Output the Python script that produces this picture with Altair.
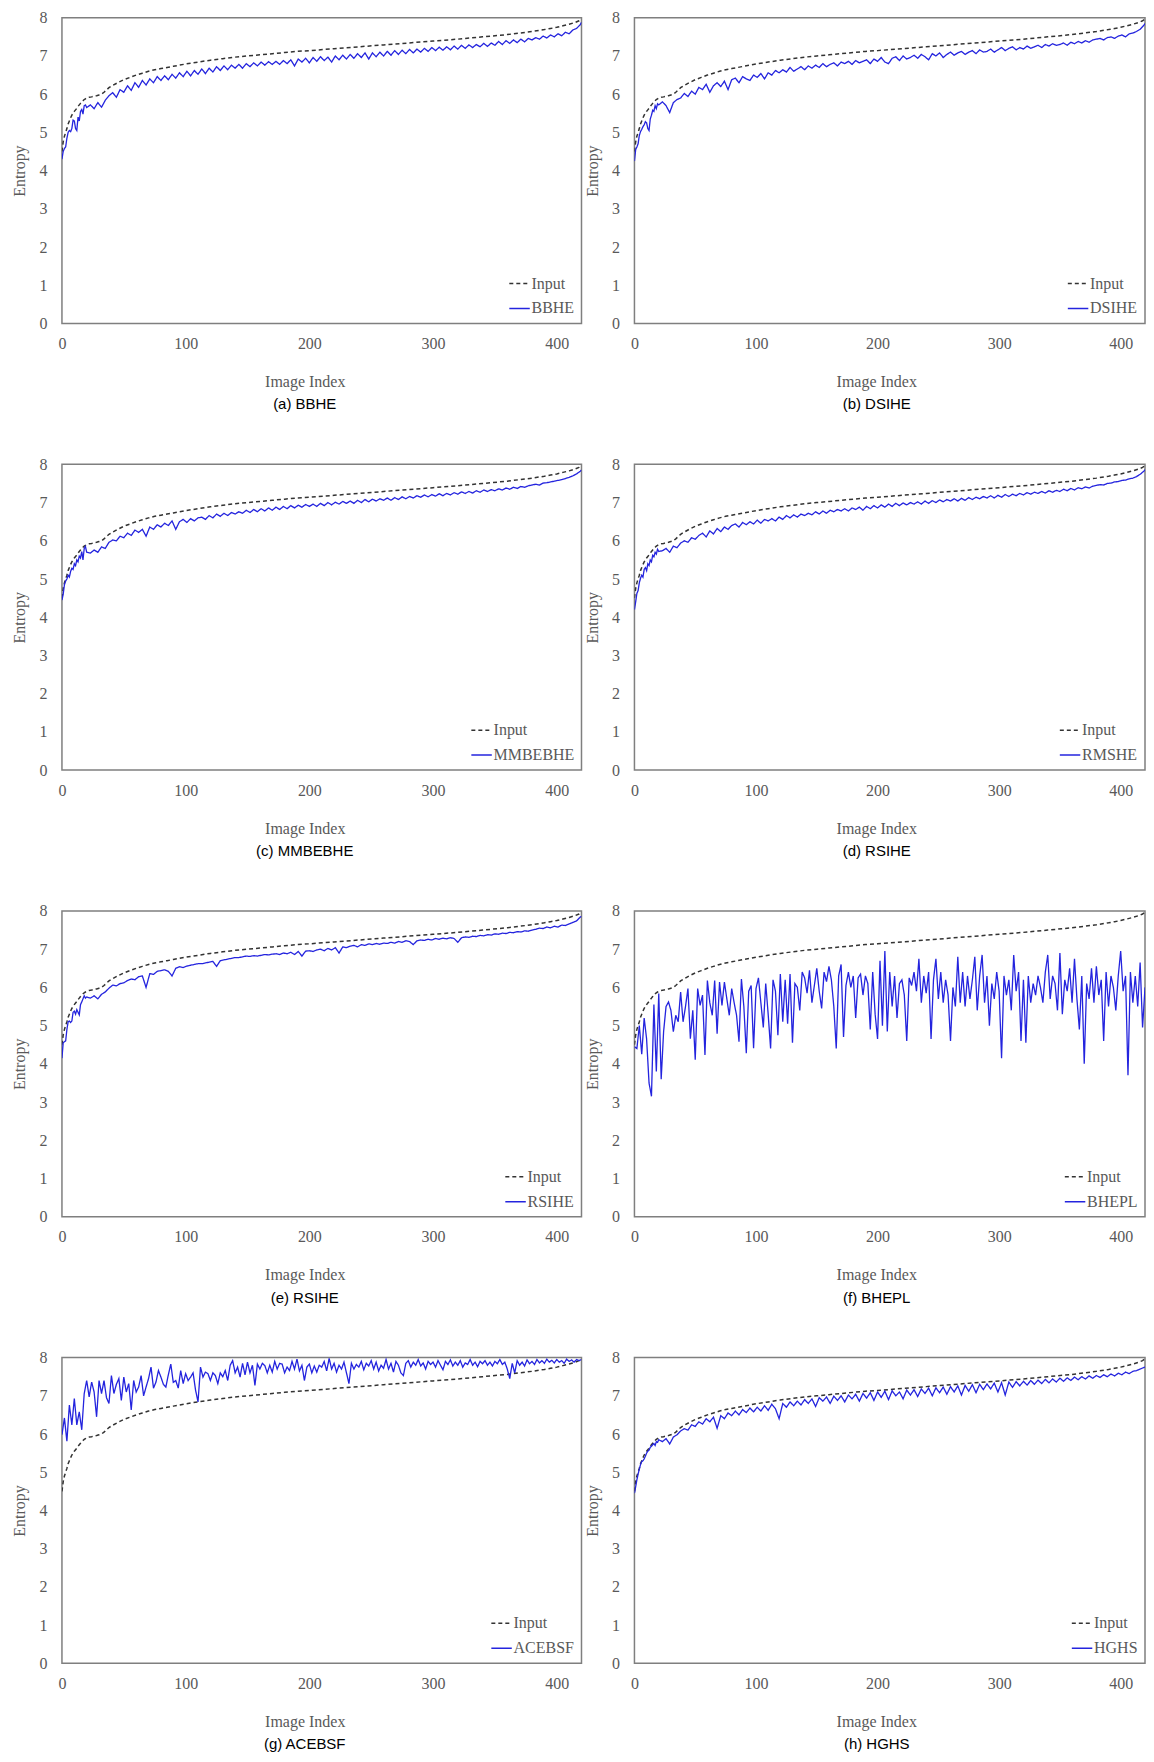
import altair as alt
import pandas as pd

# ---------------- data ----------------
input_idx = [0, 1, 2, 3, 4, 5, 6, 7, 8, 9, 10, 11, 12, 13, 14, 15, 16, 17, 18, 19, 20,
             22, 24, 26, 28, 30, 32, 34, 36, 38, 40,
             45, 50, 55, 60, 65, 70, 75, 80, 85, 90, 95,
             100, 110, 120, 130, 140, 150, 160, 170, 180, 190, 200,
             220, 240, 260, 280, 300, 320, 340, 360,
             370, 380, 390, 395, 400, 405, 410, 415, 418, 420]
input_vals = [4.50, 4.75, 4.90, 5.00, 5.10, 5.22, 5.30, 5.38, 5.45, 5.50, 5.55, 5.59, 5.63, 5.68, 5.72, 5.76, 5.80, 5.83, 5.86, 5.88, 5.90,
              5.92, 5.93, 5.95, 5.96, 5.98, 6.00, 6.05, 6.11, 6.17, 6.21,
              6.30, 6.38, 6.44, 6.50, 6.55, 6.60, 6.64, 6.67, 6.70, 6.73, 6.76,
              6.79, 6.84, 6.89, 6.93, 6.97, 7.00, 7.03, 7.06, 7.09, 7.12, 7.14,
              7.19, 7.24, 7.29, 7.34, 7.39, 7.44, 7.50, 7.56,
              7.60, 7.64, 7.69, 7.72, 7.75, 7.79, 7.83, 7.88, 7.92, 7.97]

# image indices: every image for the first 20, then every 3rd (smoother methods);
# every 2nd image for the very noisy methods
smooth_idx = list(range(0, 21)) + list(range(23, 420, 3)) + [420]
noisy_idx = list(range(0, 421, 2))

bbhe = [4.30, 4.50, 4.58, 4.62, 4.85, 5.00, 5.05, 5.02, 5.10, 5.32, 5.30, 5.10, 5.05, 5.40, 5.30, 5.55, 5.60, 5.48, 5.70, 5.72, 5.65,
        5.72, 5.62, 5.78, 5.66, 5.84, 5.96, 6.04, 5.92, 6.12, 6.05,
        6.22, 6.10, 6.30, 6.18, 6.36, 6.24, 6.40, 6.30, 6.46, 6.36,
        6.48, 6.38, 6.52, 6.42, 6.56, 6.46, 6.60, 6.48, 6.62, 6.52,
        6.66, 6.54, 6.68, 6.58, 6.72, 6.62, 6.74, 6.64, 6.76, 6.68,
        6.78, 6.68, 6.80, 6.72, 6.82, 6.74, 6.84, 6.76, 6.85, 6.78,
        6.86, 6.78, 6.88, 6.80, 6.90, 6.74, 6.92, 6.84, 6.94, 6.82,
        6.96, 6.86, 6.98, 6.88, 6.97, 6.84, 7.00, 6.90, 7.02, 6.92,
        7.04, 6.94, 7.06, 6.96, 7.08, 6.92, 7.08, 6.98, 7.10, 7.00,
        7.12, 7.02, 7.14, 7.04, 7.15, 7.06, 7.17, 7.08, 7.18, 7.10,
        7.20, 7.12, 7.22, 7.14, 7.23, 7.15, 7.24, 7.16, 7.26, 7.18,
        7.28, 7.20, 7.29, 7.22, 7.30, 7.24, 7.33, 7.25, 7.34, 7.28,
        7.38, 7.30, 7.40, 7.33, 7.42, 7.35, 7.44, 7.37, 7.46, 7.42,
        7.48, 7.44, 7.52, 7.47, 7.55, 7.50, 7.58, 7.53, 7.62, 7.58,
        7.68, 7.72, 7.82, 7.88]

dsihe = [4.25, 4.55, 4.62, 4.70, 4.92, 5.02, 5.08, 5.15, 5.20, 5.28, 5.25, 5.10, 5.05, 5.35, 5.45, 5.58, 5.55, 5.70, 5.62, 5.75, 5.72,
         5.80, 5.70, 5.52, 5.78, 5.86, 5.90, 6.02, 5.94, 6.08, 6.00,
         6.18, 6.12, 6.26, 6.05, 6.22, 6.30, 6.20, 6.34, 6.12, 6.38,
         6.42, 6.30, 6.46, 6.40, 6.36, 6.50, 6.44, 6.54, 6.40, 6.56,
         6.50, 6.62, 6.56, 6.64, 6.58, 6.70, 6.60, 6.66, 6.72, 6.64,
         6.74, 6.68, 6.76, 6.70, 6.80, 6.72, 6.78, 6.82, 6.74, 6.84,
         6.80, 6.86, 6.78, 6.88, 6.82, 6.86, 6.90, 6.80, 6.92, 6.86,
         6.96, 6.84, 6.80, 6.94, 6.98, 6.88, 7.00, 6.92, 6.96, 7.02,
         6.94, 7.04, 6.98, 6.90, 7.06, 7.00, 7.08, 6.96, 7.04, 7.10,
         7.02, 7.08, 7.12, 7.04, 7.10, 7.14, 7.06, 7.16, 7.10, 7.12,
         7.18, 7.10, 7.16, 7.22, 7.14, 7.20, 7.24, 7.16, 7.22, 7.18,
         7.26, 7.20, 7.24, 7.28, 7.22, 7.30, 7.26, 7.32, 7.28, 7.30,
         7.34, 7.28, 7.36, 7.32, 7.38, 7.34, 7.40, 7.36, 7.42, 7.44,
         7.46, 7.42, 7.48, 7.50, 7.46, 7.52, 7.55, 7.50, 7.58, 7.60,
         7.64, 7.70, 7.80, 7.85]

mmbebhe = [4.45, 4.60, 4.85, 4.95, 5.00, 5.10, 5.05, 5.20, 5.28, 5.25, 5.40, 5.35, 5.50, 5.45, 5.60, 5.55, 5.72, 5.50, 5.80, 5.85, 5.70,
           5.68, 5.76, 5.70, 5.84, 5.80, 5.96, 6.02, 6.00, 6.12, 6.08,
           6.20, 6.14, 6.28, 6.22, 6.30, 6.12, 6.36, 6.30, 6.42, 6.36,
           6.46, 6.40, 6.52, 6.30, 6.50, 6.56, 6.48, 6.58, 6.52, 6.60,
           6.62, 6.56, 6.66, 6.60, 6.70, 6.64, 6.72, 6.66, 6.74, 6.70,
           6.76, 6.72, 6.80, 6.74, 6.82, 6.76, 6.84, 6.78, 6.86, 6.80,
           6.88, 6.82, 6.90, 6.84, 6.92, 6.86, 6.93, 6.88, 6.95, 6.90,
           6.96, 6.90, 6.98, 6.92, 7.00, 6.94, 7.01, 6.96, 7.03, 6.98,
           7.04, 6.98, 7.06, 7.00, 7.08, 7.02, 7.09, 7.04, 7.10, 7.06,
           7.12, 7.06, 7.13, 7.08, 7.15, 7.10, 7.16, 7.12, 7.18, 7.14,
           7.20, 7.15, 7.21, 7.17, 7.23, 7.18, 7.24, 7.20, 7.26, 7.22,
           7.28, 7.24, 7.29, 7.25, 7.31, 7.27, 7.33, 7.29, 7.34, 7.31,
           7.36, 7.33, 7.38, 7.35, 7.40, 7.37, 7.42, 7.40, 7.44, 7.46,
           7.48, 7.46, 7.51, 7.52, 7.54, 7.56, 7.58, 7.60, 7.63, 7.66,
           7.70, 7.75, 7.82, 7.85]

rmshe = [4.20, 4.40, 4.62, 4.70, 4.90, 5.02, 5.10, 5.05, 5.25, 5.30, 5.22, 5.40, 5.35, 5.50, 5.45, 5.62, 5.58, 5.70, 5.65, 5.78, 5.72,
         5.74, 5.80, 5.70, 5.86, 5.82, 5.94, 6.00, 5.96, 6.08, 6.04,
         6.14, 6.20, 6.10, 6.26, 6.18, 6.32, 6.24, 6.36, 6.30, 6.40,
         6.44, 6.36, 6.48, 6.42, 6.50, 6.44, 6.54, 6.46, 6.56, 6.52,
         6.58, 6.52, 6.62, 6.56, 6.66, 6.60, 6.68, 6.62, 6.70, 6.66,
         6.72, 6.68, 6.76, 6.70, 6.78, 6.72, 6.80, 6.76, 6.82, 6.78,
         6.84, 6.78, 6.86, 6.82, 6.88, 6.80, 6.90, 6.84, 6.92, 6.86,
         6.94, 6.88, 6.96, 6.90, 6.98, 6.92, 6.99, 6.94, 7.00, 6.96,
         7.02, 6.96, 7.04, 6.98, 7.05, 7.00, 7.07, 7.02, 7.08, 7.04,
         7.10, 7.04, 7.11, 7.06, 7.13, 7.08, 7.14, 7.10, 7.16, 7.12,
         7.18, 7.12, 7.19, 7.14, 7.21, 7.16, 7.22, 7.18, 7.24, 7.20,
         7.26, 7.22, 7.27, 7.24, 7.29, 7.25, 7.31, 7.27, 7.32, 7.29,
         7.35, 7.31, 7.37, 7.33, 7.39, 7.36, 7.41, 7.38, 7.43, 7.45,
         7.47, 7.46, 7.50, 7.51, 7.54, 7.55, 7.58, 7.59, 7.62, 7.64,
         7.68, 7.74, 7.82, 7.86]

rsihe = [4.15, 4.55, 4.58, 4.60, 4.90, 5.10, 5.12, 5.08, 5.12, 5.35, 5.38, 5.30, 5.42, 5.35, 5.28, 5.55, 5.62, 5.70, 5.78, 5.72, 5.75,
         5.72, 5.78, 5.70, 5.82, 5.88, 5.98, 6.06, 6.04, 6.10, 6.12,
         6.18, 6.22, 6.20, 6.28, 6.30, 6.00, 6.36, 6.34, 6.42, 6.44,
         6.46, 6.42, 6.30, 6.50, 6.54, 6.52, 6.56, 6.58, 6.60, 6.62,
         6.62, 6.64, 6.66, 6.68, 6.55, 6.70, 6.72, 6.74, 6.76, 6.78,
         6.78, 6.80, 6.82, 6.81, 6.83, 6.82, 6.84, 6.86, 6.85, 6.87,
         6.88, 6.86, 6.90, 6.88, 6.92, 6.86, 6.94, 6.82, 6.95, 6.96,
         6.94, 6.98, 7.00, 6.96, 7.02, 6.98, 7.04, 6.90, 7.06, 7.04,
         7.08, 7.10, 7.06, 7.12, 7.10, 7.14, 7.12, 7.15, 7.13, 7.16,
         7.15, 7.18, 7.16, 7.20, 7.18, 7.22, 7.20, 7.12, 7.22, 7.24,
         7.23, 7.26, 7.24, 7.28, 7.26, 7.29, 7.27, 7.30, 7.28, 7.18,
         7.30, 7.32, 7.31, 7.34, 7.33, 7.36, 7.35, 7.38, 7.37, 7.40,
         7.39, 7.42, 7.41, 7.44, 7.43, 7.46, 7.45, 7.48, 7.47, 7.50,
         7.52, 7.55, 7.54, 7.58, 7.56, 7.60, 7.58, 7.63, 7.62, 7.66,
         7.70, 7.74, 7.84, 7.86]

hghs = [4.45, 4.62, 4.80, 4.95, 5.08, 5.20, 5.28, 5.30, 5.35, 5.42, 5.50, 5.55, 5.58, 5.65, 5.68, 5.72, 5.75, 5.70, 5.80, 5.78, 5.85,
        5.80, 5.88, 5.74, 5.92, 5.98, 6.08, 6.14, 6.10, 6.24, 6.20,
        6.32, 6.26, 6.40, 6.32, 6.44, 6.15, 6.48, 6.40, 6.55, 6.48,
        6.60, 6.50, 6.64, 6.56, 6.68, 6.58, 6.70, 6.60, 6.74, 6.62,
        6.78, 6.66, 6.40, 6.80, 6.70, 6.84, 6.74, 6.86, 6.76, 6.90,
        6.80, 6.92, 6.72, 6.95, 6.86, 6.97, 6.80, 6.99, 6.88, 7.00,
        6.84, 7.02, 6.92, 7.04, 6.86, 7.06, 6.94, 7.08, 6.88, 7.10,
        6.96, 7.12, 6.90, 7.13, 7.00, 7.10, 6.92, 7.15, 7.02, 7.16,
        6.98, 7.18, 7.06, 7.20, 7.00, 7.21, 7.08, 7.23, 7.04, 7.24,
        7.10, 7.26, 7.02, 7.27, 7.12, 7.29, 7.08, 7.30, 7.16, 7.31,
        7.18, 7.33, 7.10, 7.34, 7.02, 7.36, 7.22, 7.37, 7.26, 7.38,
        7.28, 7.40, 7.30, 7.41, 7.32, 7.43, 7.34, 7.44, 7.36, 7.46,
        7.38, 7.47, 7.40, 7.49, 7.42, 7.50, 7.44, 7.52, 7.46, 7.53,
        7.48, 7.55, 7.50, 7.57, 7.52, 7.59, 7.55, 7.62, 7.58, 7.64,
        7.66, 7.70, 7.74, 7.75]

bhepl = [4.45, 4.40, 5.00, 4.25, 5.20, 4.65, 3.50, 3.15, 5.55, 3.80,
         5.84, 3.60, 4.85, 5.50, 5.62, 5.40, 4.84, 5.27, 5.10, 5.88,
         5.10, 5.50, 5.97, 4.66, 5.40, 4.11, 5.97, 5.53, 5.80, 4.23,
         6.18, 5.60, 5.27, 6.18, 4.79, 6.14, 5.53, 6.14, 5.70, 5.27,
         5.97, 5.60, 5.27, 4.58, 6.22, 5.50, 4.28, 5.90, 6.05, 4.41,
         5.97, 6.25, 5.60, 4.95, 6.10, 5.30, 4.40, 6.20, 5.90, 4.75,
         6.35, 5.10, 6.20, 5.05, 6.35, 4.55, 6.10, 6.00, 5.40, 6.40,
         6.25, 5.85, 6.45, 5.60, 6.05, 6.50, 5.90, 5.45, 6.40, 6.15,
         6.55, 6.20, 5.50, 4.40, 6.30, 6.60, 4.70, 6.05, 6.40, 6.00,
         6.30, 5.20, 6.25, 6.35, 5.80, 6.30, 6.10, 4.90, 6.40, 5.30,
         4.65, 6.70, 5.00, 6.95, 4.85, 6.40, 5.50, 6.30, 5.20, 6.10,
         6.20, 5.80, 4.60, 6.25, 6.05, 6.40, 5.90, 6.75, 5.60, 6.30,
         5.85, 6.40, 4.65, 6.20, 6.75, 5.70, 6.40, 5.60, 6.20, 5.80,
         4.60, 6.00, 5.50, 6.80, 5.60, 6.40, 5.50, 6.30, 5.70, 6.20,
         6.80, 5.40, 6.30, 6.85, 5.60, 6.30, 5.00, 6.10, 5.70, 6.40,
         5.90, 4.15, 6.30, 5.80, 6.20, 5.40, 6.85, 5.90, 6.40, 4.60,
         6.20, 4.55, 6.30, 5.60, 6.10, 5.80, 6.30, 6.00, 5.60, 6.40,
         6.85, 5.70, 6.30, 6.10, 5.40, 6.90, 5.30, 6.20, 5.90, 6.50,
         5.60, 6.75, 5.70, 4.90, 6.30, 4.00, 6.10, 5.70, 6.50, 5.60,
         6.55, 5.80, 6.20, 4.60, 6.40, 5.50, 6.30, 6.00, 5.40, 6.30,
         6.95, 5.90, 6.30, 3.70, 6.40, 5.60, 6.30, 5.50, 6.65, 4.95,
         6.00]

acebsf = [5.98, 6.42, 5.81, 6.76, 6.24, 6.93, 6.24, 6.58, 6.11, 7.06,
          7.40, 6.97, 7.36, 7.10, 6.45, 7.40, 7.06, 7.40, 6.95, 6.80,
          7.53, 7.06, 7.30, 7.45, 6.88, 7.49, 7.10, 7.32, 6.63, 7.40,
          7.10, 7.23, 7.53, 7.00, 7.23, 7.45, 7.75, 7.20, 7.36, 7.66,
          7.49, 7.30, 7.23, 7.55, 7.83, 7.35, 7.40, 7.20, 7.66, 7.32,
          7.58, 7.40, 7.49, 7.60, 7.15, 6.84, 7.75, 7.49, 7.62, 7.58,
          7.40, 7.60, 7.53, 7.32, 7.60, 7.50, 7.66, 7.40, 7.80, 7.92,
          7.60, 7.75, 7.49, 7.85, 7.55, 7.88, 7.60, 7.80, 7.27, 7.83,
          7.70, 7.85, 7.79, 7.60, 7.80, 7.62, 7.90, 7.70, 7.85, 7.83,
          7.60, 7.75, 7.66, 7.90, 7.70, 7.96, 7.65, 7.80, 7.40, 7.75,
          7.83, 7.60, 7.78, 7.62, 7.80, 7.75, 7.90, 7.65, 7.98, 7.70,
          7.85, 7.62, 7.80, 7.70, 7.88, 7.60, 7.32, 7.85, 7.70, 7.82,
          7.75, 7.90, 7.68, 7.85, 7.78, 7.92, 7.70, 7.88, 7.65, 7.80,
          7.72, 7.95, 7.70, 7.85, 7.62, 7.90, 7.80, 7.60, 7.53, 7.85,
          7.92, 7.75, 7.88, 7.80, 7.95, 7.78, 7.86, 7.70, 7.90, 7.82,
          7.88, 7.75, 7.92, 7.80, 7.68, 7.90, 7.82, 7.94, 7.78, 7.88,
          7.80, 7.92, 7.75, 7.86, 7.82, 7.95, 7.80, 7.88, 7.76, 7.90,
          7.84, 7.92, 7.80, 7.88, 7.78, 7.90, 7.84, 7.95, 7.82, 7.88,
          7.70, 7.45, 7.85, 7.60, 7.92, 7.80, 7.88, 7.78, 7.94, 7.84,
          7.90, 7.82, 7.95, 7.86, 7.92, 7.85, 7.96, 7.88, 7.93, 7.86,
          7.95, 7.88, 7.92, 7.85, 7.96, 7.90, 7.94, 7.88, 7.95, 7.92,
          7.95]

captions = ["(a) BBHE", "(b) DSIHE", "(c) MMBEBHE", "(d) RSIHE",
            "(e) RSIHE", "(f) BHEPL", "(g) ACEBSF", "(h) HGHS"]
methods = ["BBHE", "DSIHE", "MMBEBHE", "RMSHE", "RSIHE", "BHEPL", "ACEBSF", "HGHS"]
series_idx = [smooth_idx, smooth_idx, smooth_idx, smooth_idx, smooth_idx, noisy_idx, noisy_idx, smooth_idx]
series_vals = [bbhe, dsihe, mmbebhe, rmshe, rsihe, bhepl, acebsf, hghs]
x_ticks = [0, 100, 200, 300, 400]
y_ticks = [0, 1, 2, 3, 4, 5, 6, 7, 8]

# ---------------- styling ----------------
BLUE = "#2424de"
DASH_COLOR = "#333333"
GREY = "#595959"
SERIF = "Liberation Serif"
SANS = "Liberation Sans"


def panel(caption, name, idx, vals, width, title_x, cap_dx):
    df_in = pd.DataFrame({"x": input_idx, "y": input_vals, "series": ["Input"] * len(input_idx)})
    df_m = pd.DataFrame({"x": idx, "y": vals, "series": [name] * len(idx)})
    dom = ["Input", name]
    enc = dict(
        x=alt.X("x:Q", scale=alt.Scale(domain=[0, 420], nice=False, zero=False),
                axis=alt.Axis(values=x_ticks, title="Image Index", titleX=title_x, titleY=58,
                              titleBaseline="middle", titleAlign="center", labelFlush=False)),
        y=alt.Y("y:Q", scale=alt.Scale(domain=[0, 8], nice=False),
                axis=alt.Axis(values=y_ticks, title="Entropy", labelFlush=False)),
        color=alt.Color("series:N", scale=alt.Scale(domain=dom, range=[DASH_COLOR, BLUE]),
                        legend=alt.Legend(title=None)),
        strokeDash=alt.StrokeDash("series:N", scale=alt.Scale(domain=dom, range=[[4, 3], [1, 0]]),
                                  legend=alt.Legend(title=None)),
    )
    l_in = alt.Chart(df_in).mark_line(strokeWidth=1.5, clip=True).encode(**enc)
    l_m = alt.Chart(df_m).mark_line(strokeWidth=1.3, clip=True).encode(**enc)
    return alt.layer(l_in, l_m).properties(
        width=width, height=306,
        title=alt.TitleParams(caption, orient="bottom", anchor="middle", frame="group",
                              dx=cap_dx, offset=8, font=SANS, fontSize=15,
                              fontWeight="normal", color="#000000"),
    )


panels = []
for k, (c, m, i, v) in enumerate(zip(captions, methods, series_idx, series_vals)):
    if k % 2 == 0:
        panels.append(panel(c, m, i, v, 520, 243, -17))
    else:
        panels.append(panel(c, m, i, v, 511, 242, -13))

rows = []
for r in range(4):
    rows.append(
        alt.hconcat(panels[2 * r], panels[2 * r + 1], spacing=1)
        .resolve_scale(color="independent", strokeDash="independent")
    )

chart = (
    alt.vconcat(*rows, spacing=42)
    .resolve_scale(color="independent", strokeDash="independent")
    .properties(padding={"left": 3, "top": 0, "right": 0, "bottom": 0}, background="white")
    .configure_view(stroke="#7f7f7f", strokeWidth=1.5)
    .configure_axis(labelFont=SERIF, labelFontSize=16, labelColor=GREY,
                    titleFont=SERIF, titleFontSize=16, titleColor=GREY,
                    titleFontWeight="normal", ticks=False, domain=False, grid=False,
                    labelPadding=12)
    .configure_axisY(labelPadding=15, titlePadding=11)
    .configure_legend(orient="bottom-right", offset=7, padding=0, labelFont=SERIF,
                      labelFontSize=16, labelColor=GREY, symbolSize=420,
                      symbolStrokeWidth=1.5, labelOffset=1, rowPadding=6,
                      symbolType="stroke")
)

chart.save("out.html", embed_options={"renderer": "svg", "actions": False})
